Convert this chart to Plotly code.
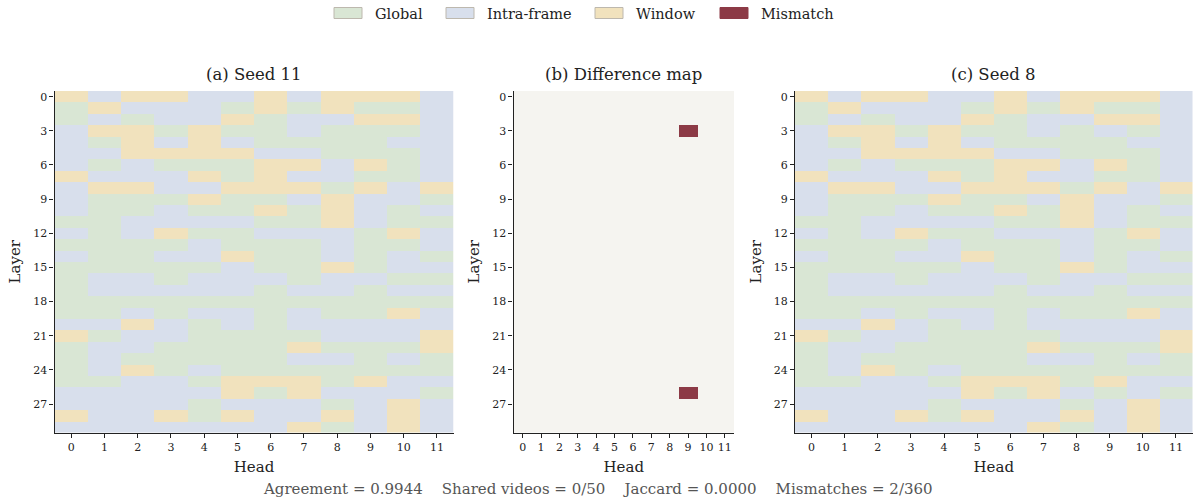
import plotly.graph_objects as go

# ---------------- data ----------------
CATEGORIES = ["Global", "Intra-frame", "Window"]
HEADS = list(range(12))
LAYERS = list(range(30))
LAYER_TICKS = [0, 3, 6, 9, 12, 15, 18, 21, 24, 27]

# G = Global, I = Intra-frame, W = Window  (rows = layers 0..29, cols = heads 0..11)
SEED_11 = [
    "W I W W I I W I W W W I",
    "G W I I I G W G W G G I",
    "G I G I I W G I I W W I",
    "I W W G W G G I G G G I",
    "I G W I W I G G G G I I",
    "I I W W W W I I G G G I",
    "I G I G G G W W I W G I",
    "W I I I W G W I I G G I",
    "I W W I I W W W G W I W",
    "I G G G W G G I W I I G",
    "I G G I G G W G W I G I",
    "G G I I I I G G W I G G",
    "I G I W G G I I I G W I",
    "G G G G I G G G I G G I",
    "I G G I I W G G I G I G",
    "G G G G G I G G W G I I",
    "G I I G I I I G I I G G",
    "G I I I I I G I I G I I",
    "G G G G G G G G G G G G",
    "G G I G I I G I G G W I",
    "I I W I G I G I I I I I",
    "W G I I G G G G I I I W",
    "G I I G G G G W G G G W",
    "G I G G G G G I I G I G",
    "G I W G I G G G G G G G",
    "G G I I G W W W G W I I",
    "I I I I I W G W I I I G",
    "I I I I G I I I G I W I",
    "W I I W G W I I W I W I",
    "I I I I I I I W G I W I",
]

SEED_8 = [
    "W I W W I I W I W W W I",
    "G W I I I G W G W G G I",
    "G I G I I W G I I W W I",
    "I W W G W G G I G I G I",
    "I G W I W I G G G G I I",
    "I I W W W W I I G G G I",
    "I G I G G G W W I W G I",
    "W I I I W G W I I G G I",
    "I W W I I W W W G W I W",
    "I G G G W G G I W I I G",
    "I G G I G G W G W I G I",
    "G G I I I I G G W I G G",
    "I G I W G G I I I G W I",
    "G G G G I G G G I G G I",
    "I G G I I W G G I G I G",
    "G G G G G I G G W G I I",
    "G I I G I I I G I I G G",
    "G I I I I I G I I G I I",
    "G G G G G G G G G G G G",
    "G G I G I I G I G G W I",
    "I I W I G I G I I I I I",
    "W G I I G G G G I I I W",
    "G I I G G G G W G G G W",
    "G I G G G G G I I G I G",
    "G I W G I G G G G G G G",
    "G G I I G W W W G W I I",
    "I I I I I W G W I G I G",
    "I I I I G I I I G I W I",
    "W I I W G W I I W I W I",
    "I I I I I I I W G I W I",
]

SUBPLOT_TITLES = ["(a) Seed 11", "(b) Difference map", "(c) Seed 8"]
LEGEND_LABELS = ["Global", "Intra-frame", "Window", "Mismatch"]
FOOTER_PARTS = ["Agreement = 0.9944", "Shared videos = 0/50", "Jaccard = 0.0000", "Mismatches = 2/360"]

# ---------------- styles ----------------
CODE = {"G": 0, "I": 1, "W": 2}
C_GLOBAL = "#D9E6D4"
C_INTRA = "#D8DFEC"
C_WINDOW = "#F1E2BD"
C_BG = "#F5F4F0"
C_MISMATCH = "#8C3A46"
FONT = "DejaVu Serif"
W, H = 1193, 501


def to_matrix(rows):
    return [[CODE[c] for c in r.split()] for r in rows]


z11 = to_matrix(SEED_11)
z8 = to_matrix(SEED_8)
zdiff = [[1 if a != b else 0 for a, b in zip(r1, r2)] for r1, r2 in zip(z11, z8)]

cat_scale = [[0.0, C_GLOBAL], [0.5, C_INTRA], [1.0, C_WINDOW]]
diff_scale = [[0.0, C_BG], [1.0, C_MISMATCH]]

fig = go.Figure()
fig.add_trace(go.Heatmap(z=z11, x=HEADS, y=LAYERS, colorscale=cat_scale, zmin=0, zmax=2,
                         showscale=False, xaxis="x", yaxis="y", hoverinfo="skip"))
fig.add_trace(go.Heatmap(z=zdiff, x=HEADS, y=LAYERS, colorscale=diff_scale, zmin=0, zmax=1,
                         showscale=False, xaxis="x2", yaxis="y2", hoverinfo="skip"))
fig.add_trace(go.Heatmap(z=z8, x=HEADS, y=LAYERS, colorscale=cat_scale, zmin=0, zmax=2,
                         showscale=False, xaxis="x3", yaxis="y3", hoverinfo="skip"))

# panel pixel extents
panels = [(54.5, 453.5), (513.5, 734.0), (795.0, 1192.5)]
top_px, bot_px = 91.0, 432.5
ydom = [1 - bot_px / H, 1 - top_px / H]

axis_common = dict(
    showline=True, linecolor="#222", linewidth=1.2, mirror=False,
    ticks="outside", ticklen=4, tickwidth=1, tickcolor="#222",
    showgrid=False, zeroline=False,
    tickfont=dict(family=FONT, size=11, color="#222"),
)

layout = dict(
    width=W, height=H,
    margin=dict(l=0, r=0, t=0, b=0),
    paper_bgcolor="white", plot_bgcolor="white",
    font=dict(family=FONT, color="#222"),
    showlegend=False,
)

for i, (x0, x1) in enumerate(panels):
    sfx = "" if i == 0 else str(i + 1)
    layout["xaxis" + sfx] = dict(
        axis_common, domain=[x0 / W, x1 / W], anchor="y" + sfx,
        range=[-0.5, 11.5], tickmode="array", tickvals=HEADS,
        ticktext=[str(h) for h in HEADS],
        title=dict(text="Head", font=dict(family=FONT, size=15, color="#222"), standoff=8),
    )
    layout["yaxis" + sfx] = dict(
        axis_common, domain=ydom, anchor="x" + sfx,
        range=[29.5, -0.5], tickmode="array", tickvals=LAYER_TICKS,
        ticktext=[str(t) for t in LAYER_TICKS],
        title=dict(text="Layer", font=dict(family=FONT, size=15, color="#222"), standoff=8),
    )

fig.update_layout(**layout)

annotations = []
for (x0, x1), title in zip(panels, SUBPLOT_TITLES):
    annotations.append(dict(
        text=title, x=(x0 + x1) / 2 / W, y=1 - 74 / H, xref="paper", yref="paper",
        xanchor="center", yanchor="middle", showarrow=False,
        font=dict(family=FONT, size=16.5, color="#222"),
    ))

gap = "&nbsp;" * 4
annotations.append(dict(
    text=gap.join(FOOTER_PARTS), x=598 / W, y=1 - 489 / H,
    xref="paper", yref="paper", xanchor="center", yanchor="middle", showarrow=False,
    font=dict(family=FONT, size=15, color="#555"),
))

# legend (manual)
legend_colors = [C_GLOBAL, C_INTRA, C_WINDOW, C_MISMATCH]
legend_box_x = [334, 446, 595, 720]
shapes = []
for lx, lab, col in zip(legend_box_x, LEGEND_LABELS, legend_colors):
    border = "#BDB8AE" if col != C_MISMATCH else C_MISMATCH
    shapes.append(dict(type="rect", xref="paper", yref="paper",
                       x0=lx / W, x1=(lx + 28) / W, y0=1 - 18.5 / H, y1=1 - 7.5 / H,
                       fillcolor=col, line=dict(color=border, width=1)))
    annotations.append(dict(
        text=lab, x=(lx + 39) / W, y=1 - 13.5 / H, xref="paper", yref="paper",
        xanchor="left", yanchor="middle", showarrow=False,
        font=dict(family=FONT, size=14.5, color="#222"),
    ))

fig.update_layout(annotations=annotations, shapes=shapes)
fig.write_html("out.html", config={"displayModeBar": False},
               post_script="document.body.style.margin='0';")
